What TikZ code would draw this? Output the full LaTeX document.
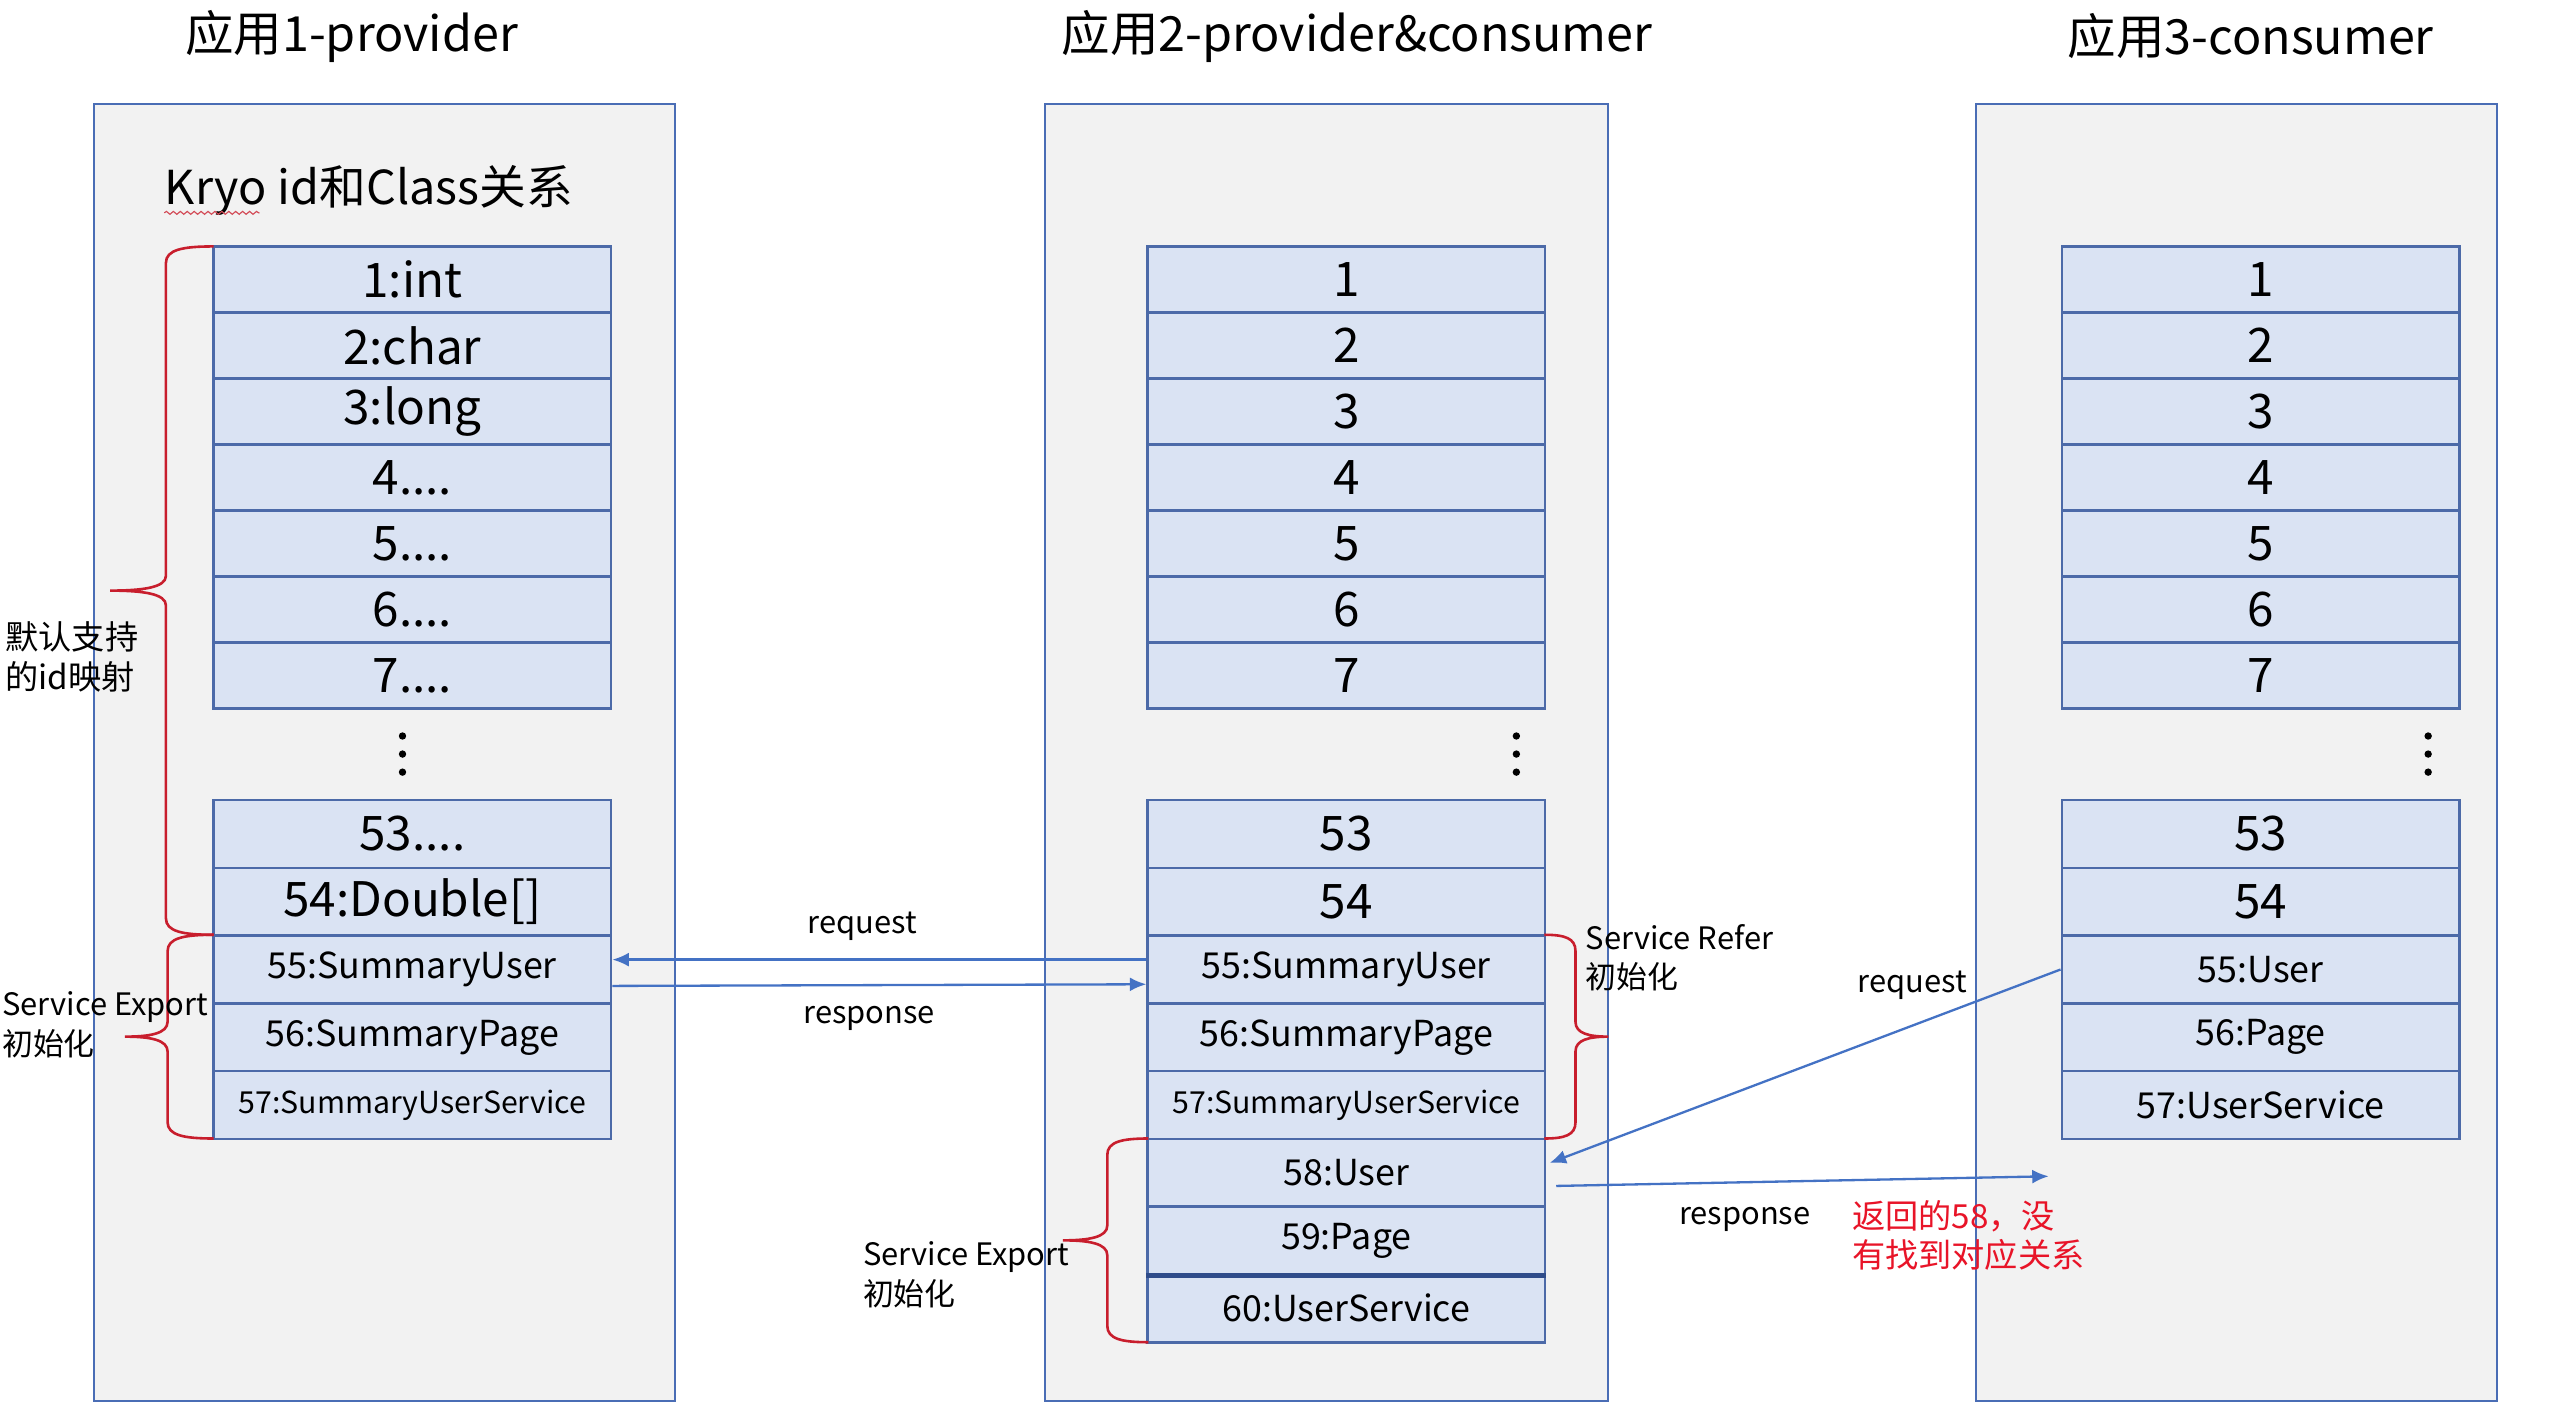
\documentclass[tikz,border=0pt]{standalone}
\usepackage{fontspec}
\setmainfont{Noto Sans CJK SC}
\usetikzlibrary{positioning,calc,arrows.meta,decorations.pathmorphing}

\definecolor{appfill}{HTML}{F2F2F2}
\definecolor{appline}{HTML}{4A6DB5}
\definecolor{cellfill}{HTML}{DAE3F3}
\definecolor{cellline}{HTML}{4C6AA8}
\definecolor{celldark}{HTML}{2F4C8A}
\definecolor{flowblue}{HTML}{4472C4}
\definecolor{bracered}{RGB}{200,30,45}
\definecolor{warnred}{RGB}{232,20,40}

\newcommand{\ftitle}{\fontsize{16.8}{20}\selectfont}
\newcommand{\fkryo}{\fontsize{16.2}{19}\selectfont}
\newcommand{\fbig}{\fontsize{16.5}{20}\selectfont}
\newcommand{\fmid}{\fontsize{12.4}{15}\selectfont}
\newcommand{\fsml}{\fontsize{10.5}{13}\selectfont}
\newcommand{\fnote}{\fontsize{11.5}{13.8}\selectfont}
\newcommand{\flab}{\fontsize{10.7}{13.8}\selectfont}
\newcommand{\fdots}{....}

% end x, straight x, tip x, top y, bottom y
\newcommand{\redbrace}[5]{%
  \pgfmathsetmacro{\ymid}{(#4+#5)/2}%
  \pgfmathsetmacro{\xa}{#2+0.35*(#1-#2)}%
  \pgfmathsetmacro{\xb}{#3+0.6*(#2-#3)}%
  \draw[brace] (#1,#4) .. controls (\xa,#4) and (#2,{#4+2}) .. (#2,{#4+10})
    -- (#2,{\ymid-9}) .. controls (#2,{\ymid-2}) and (\xb,\ymid) .. (#3,\ymid)
    .. controls (\xb,\ymid) and (#2,{\ymid+2}) .. (#2,{\ymid+9})
    -- (#2,{#5-10}) .. controls (#2,{#5-2}) and (\xa,#5) .. (#1,#5);
}

\tikzset{
  app/.style={draw=appline, fill=appfill, line width=0.7pt, minimum height=15.8cm, inner sep=0pt},
  cell/.style={draw=cellline, fill=cellfill, line width=0.9pt, minimum width=4.84cm, minimum height=0.804cm, inner sep=0pt},
  lowcell/.style={cell, minimum height=0.825cm},
  title/.style={font=\ftitle, inner sep=0pt},
  note/.style={font=\fnote, align=left, anchor=west, inner sep=0pt},
  brace/.style={draw=bracered, line width=0.9pt},
  flow/.style={draw=flowblue, line width=0.8pt, -{Latex[length=0.2cm,width=0.17cm]}},
}

\begin{document}
\begin{tikzpicture}[x=0.02cm, y=-0.02cm]
  \useasboundingbox (0,0) rectangle (1568,861);

  % the three applications
  \node[app, minimum width=7.08cm] (app1) at (234,458) {};
  \node[app, minimum width=6.86cm] (app2) at (807.5,458) {};
  \node[app, minimum width=6.34cm] (app3) at (1361.5,458) {};

  \node[title] (t1) at (214,22) {应用1-provider};
  \node[title] (t2) at (826,22) {应用2-provider\&consumer};
  \node[title] (t3) at (1370,22) {应用3-consumer};

  \node[title, font=\fkryo, anchor=west] (kryo) at (100,116) {Kryo id和Class关系};
  \draw[bracered!80, line width=0.4pt, decorate, decoration={snake, amplitude=0.5pt, segment length=2.4pt}]
    ($(kryo.base west)+(0,5)$) -- +(58,0);

  % provider table
  \foreach \k/\lab in {1/1:int,2/2:char,3/3:long,4/4\fdots,5/5\fdots,6/6\fdots,7/7\fdots}
    \node[cell, font=\fbig] (p\k) at (251,{150+40.2*(\k-0.5)}) {\lab};
  \foreach \k/\lab/\fs in {53/53\fdots/\fbig, 54/54:Double[]/\fbig, 55/55:SummaryUser/\fmid,
      56/56:SummaryPage/\fmid, 57/57:SummaryUserService/\fsml}
    \node[lowcell, font=\fs] (p\k) at (251,{487+41.25*(\k-52.5)}) {\lab};

  % provider & consumer table
  \foreach \k in {1,...,7}
    \node[cell, font=\fbig] (m\k) at (819.5,{150+40.2*(\k-0.5)}) {\k};
  \foreach \k/\lab/\fs in {53/53/\fbig, 54/54/\fbig, 55/55:SummaryUser/\fmid, 56/56:SummaryPage/\fmid,
      57/57:SummaryUserService/\fsml, 58/58:User/\fmid, 59/59:Page/\fmid, 60/60:UserService/\fmid}
    \node[lowcell, font=\fs] (m\k) at (819.5,{487+41.25*(\k-52.5)}) {\lab};
  \draw[celldark, line width=1.6pt] (m59.south west) -- (m59.south east);

  % consumer table
  \foreach \k in {1,...,7}
    \node[cell, font=\fbig] (c\k) at (1376,{150+40.2*(\k-0.5)}) {\k};
  \foreach \k/\lab/\fs in {53/53/\fbig, 54/54/\fbig, 55/55:User/\fmid, 56/56:Page/\fmid, 57/57:UserService/\fmid}
    \node[lowcell, font=\fs] (c\k) at (1376,{487+41.25*(\k-52.5)}) {\lab};

  % gaps in the ids
  \foreach \x in {245,923,1478}
    \foreach \y in {448,459,470}
      \fill (\x,\y) circle (0.045cm);

  % braces
  \redbrace{130}{101}{67}{150}{569}
  \redbrace{130}{102}{76}{569}{693}
  \redbrace{940}{959}{979}{569}{693}
  \redbrace{699}{674}{647}{693}{817}

  \node[note] (dflt) at (3,400) {默认支持\\的id映射};
  \node[note, font=\flab] (exp1) at (1,624) {Service Export\\初始化};
  \node[note, font=\flab] (refer) at (965,583) {Service Refer\\初始化};
  \node[note, font=\flab] (exp2) at (525,776) {Service Export\\初始化};

  % calls between the applications
  \draw[flow] ($(m55.west)+(0,-6)$) -- ($(p55.east)+(0,-6)$);
  \draw[flow] ($(p55.east)+(0,10)$) -- ($(m55.west)+(0,9)$);
  \node[font=\flab] (req1) at (525,564) {request};
  \node[font=\flab] (resp1) at (529,620) {response};

  \coordinate (miss) at (1247,716);
  \draw[flow] (c55.west) -- ($(m58.east)+(2,-6)$);
  \draw[flow] ($(m58.east)+(6,8)$) -- (miss);
  \node[font=\flab] (req2) at (1164,600) {request};
  \node[font=\flab] (resp2) at (1062,742) {response};
  \node[note, text=warnred] (lost) at (1127,752) {返回的58，没\\有找到对应关系};
\end{tikzpicture}
\end{document}
